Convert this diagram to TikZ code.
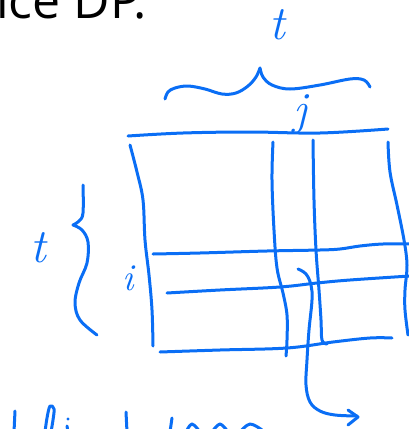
\documentclass[tikz,border=0pt]{standalone}
\usepackage{fontspec}
\newfontfamily\headfont{Open Sans}
\definecolor{penblue}{RGB}{10,110,245}
\tikzset{
  pen/.style={draw=penblue, line width=3pt, line cap=round, line join=round},
  handlabel/.style={text=penblue, inner sep=0pt},
}
\begin{document}
\begin{tikzpicture}[x=1pt,y=-1pt]
\useasboundingbox (0,0) rectangle (408,429);
% heading (cut off at top)
\node[anchor=base west, inner sep=0pt, font=\fontsize{50}{60}\selectfont\headfont] (head) at (-4,18) {ice DP.};
% labels
\node[handlabel, font=\fontsize{48}{56}\selectfont\itshape] (tTop) at (277,25) {t};
\node[handlabel, font=\fontsize{48}{56}\selectfont\itshape] (tLeft) at (38,248) {t};
\node[handlabel, font=\fontsize{46}{54}\selectfont\itshape] (jLab) at (300,114) {j};
\node[handlabel, font=\fontsize{38}{44}\selectfont\itshape] (iLab) at (128,278) {i};
% top brace
\draw[pen] plot[smooth, tension=0.6] coordinates {(165,99) (168,92) (175,88) (188,86) (205,89) (222,94) (236,93) (248,86) (256,77) (260,68)};
\draw[pen] plot[smooth, tension=0.6] coordinates {(260,68) (263,77) (272,85) (290,89) (320,85) (350,79) (364,80) (370,87)};
% left brace
\draw[pen] plot[smooth, tension=0.6] coordinates {(83,185) (83,213) (79,221) (73,225)};
\draw[pen] plot[smooth, tension=0.6] coordinates {(73,225) (82,230) (88,242) (87,263) (79,283) (75,303) (80,320) (97,335)};
% grid horizontals
\draw[pen] plot[smooth, tension=0.6] coordinates {(128,136) (183,133) (250,132) (320,133) (388,129)};
\draw[pen] plot[smooth, tension=0.6] coordinates {(153,254) (200,253) (267,251) (320,250) (340,249) (360,246) (383,244) (410,244)};
\draw[pen] plot[smooth, tension=0.6] coordinates {(167,293) (220,290) (280,287) (317,283) (350,280) (410,276)};
\draw[pen] plot[smooth, tension=0.6] coordinates {(160,352) (220,350) (287,348) (333,342) (370,338) (392,338)};
% grid verticals
\draw[pen] plot[smooth, tension=0.6] coordinates {(130,145) (137,172) (143,200) (145,240) (149,275) (152,310) (153,346)};
\draw[pen] plot[smooth, tension=0.6] coordinates {(273,142) (272,180) (274,230) (277,268) (283,293) (287,315) (287,340) (286,356)};
\draw[pen] plot[smooth, tension=0.6] coordinates {(313,140) (314,200) (316,250) (319,290) (321,320) (322,340) (327,344)};
\draw[pen] plot[smooth, tension=0.6] coordinates {(388,142) (390,172) (397,205) (404,240) (407,265) (405,290) (405,310) (408,335)};
% arrow
\draw[pen] plot[smooth, tension=0.6] coordinates {(298,269) (306,274) (311,285) (312,300) (309,330) (307,360) (306,385) (310,402) (320,411) (335,415) (357,416)};
\draw[pen] (348,410) -- (358,417) -- (348,425);
% cut-off handwriting at bottom
\draw[pen] (15,411) -- (14,432);
\draw[pen] plot[smooth, tension=0.6] coordinates {(45,432) (47,418) (50,406) (54,409) (53,420) (51,432)};
\fill[penblue] (68,419) circle (1.6pt);
\draw[pen] (67,426) -- (68,432);
\draw[pen] (126,412) -- (127,432);
\draw[pen] (172,418) -- (170,432);
\draw[pen] plot[smooth, tension=0.6] coordinates {(186,432) (192,424) (200,432)};
\draw[pen] plot[smooth, tension=0.6] coordinates {(212,432) (220,424) (228,432)};
\draw[pen] plot[smooth, tension=0.6] coordinates {(240,432) (250,424) (262,430)};
\end{tikzpicture}
\end{document}
